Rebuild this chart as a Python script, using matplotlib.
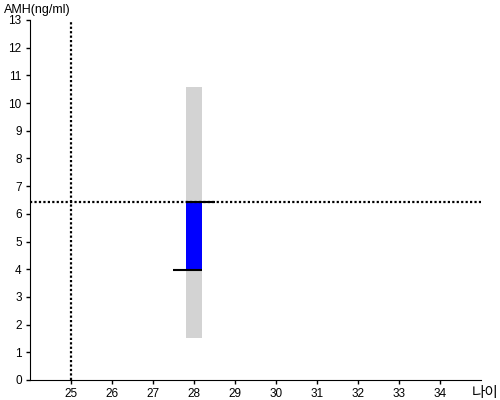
import matplotlib
matplotlib.use("Agg")
import matplotlib.pyplot as plt

# 데이터
age = 28
amh = 6.43
ref_age = 25
range_low = 1.52
range_high = 10.59
lower_mark = 3.97
x_ticks = list(range(25, 35))
y_ticks = list(range(0, 14))

plt.rcParams['font.family'] = ['Liberation Sans', 'Noto Sans CJK KR', 'DejaVu Sans']

fig = plt.figure(figsize=(5, 4), dpi=100)
ax = fig.add_axes([0.06, 0.05, 0.902, 0.9])

# 회색 범위 막대
ax.bar(age, range_high - range_low, bottom=range_low, width=0.4,
       color='#d3d3d3', zorder=1)
# 파란 막대
ax.bar(age, amh - lower_mark, bottom=lower_mark, width=0.4,
       color='#0000ff', zorder=2)
# 검은 선
ax.hlines(amh, age - 0.2, age + 0.52, color='black', lw=1.5, zorder=3)
ax.hlines(lower_mark, age - 0.52, age + 0.2, color='black', lw=1.5, zorder=3)

# 점선
ax.axhline(amh, color='black', lw=1.6, ls=(0, (1, 1)), zorder=4)
ax.axvline(ref_age, color='black', lw=1.6, ls=(0, (1, 1)), zorder=4)

ax.set_xlim(24, 35)
ax.set_ylim(0, 13)
ax.set_xticks(x_ticks)
ax.set_yticks(y_ticks)
ax.tick_params(labelsize=8.5, length=3, width=1, pad=3)
ax.spines['top'].set_visible(False)
ax.spines['right'].set_visible(False)

fig.text(0.008, 0.975, 'AMH(ng/ml)', fontsize=9, va='center', ha='left')
fig.text(0.944, 0.018, '나이', fontsize=10.5, va='center', ha='left')

plt.savefig('out.png', dpi=100)
